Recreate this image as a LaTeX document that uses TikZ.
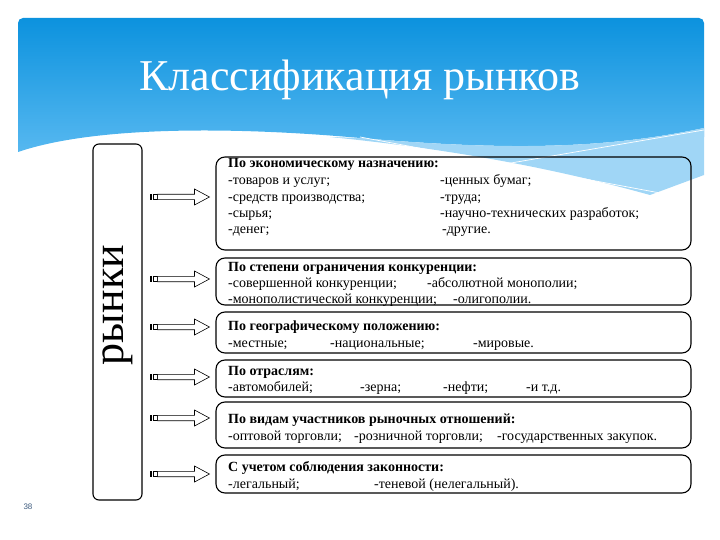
\documentclass[tikz,border=0pt]{standalone}
\usepackage{fontspec}
\setmainfont{Liberation Serif}
\newfontfamily\numfont{Liberation Sans}
\usetikzlibrary{calc}

\definecolor{SkyTop}{RGB}{12,146,222}
\definecolor{SkyLow}{RGB}{86,184,240}
\definecolor{SkyPale}{RGB}{160,214,246}
\definecolor{PageNum}{RGB}{60,90,125}

\newcommand{\StripedArrow}[2]%
% start, target box
{
    % bout de la flèche juste avant la boîte
    \path let \p1 = (#1), \p2 = (#2.west) in
        coordinate (AS) at (\x1,\y1)
        coordinate (AE) at (\x2-6pt,\y1);
    % rayures
    \fill ($(AS)+(0,-3)$) rectangle ($(AS)+(1.8,3)$);
    \draw[line width=0.6pt] ($(AS)+(3.6,-2.7)$) rectangle ($(AS)+(7.6,2.7)$);
    % corps et pointe
    \draw[line width=0.6pt, fill=white]
        ($(AS)+(7.6,-2.7)$) -- ($(AE)+(-15,-2.7)$) -- ($(AE)+(-15,-8)$)
        -- (AE) -- ($(AE)+(-15,8)$) -- ($(AE)+(-15,2.7)$)
        -- ($(AS)+(7.6,2.7)$) -- cycle;
}

\begin{document}
\begin{tikzpicture}
[   x=1pt, y=-1pt,
    catbox/.style={draw, line width=1.1pt, rounded corners=9pt,
        minimum width=475pt, inner sep=0},
    head/.style={anchor=base west, inner sep=0,
        font=\bfseries\fontsize{14}{16}\selectfont},
    item/.style={anchor=base west, inner sep=0,
        font=\fontsize{14}{16}\selectfont}
]
    \useasboundingbox (0,0) rectangle (720,540);

    % bandeau du titre
    \shade[top color=SkyTop, bottom color=SkyLow, rounded corners=5pt]
        (18,152) -- (18,18) -- (704,18) -- (704,140) [sharp corners] -- (704,128)
        .. controls (600,150) and (500,150) .. (360,138)
        .. controls (250,128) and (100,124) .. (18,152) -- cycle;
    \fill[SkyPale]
        (330,137) .. controls (460,150) and (560,170) .. (650,195)
        -- (704,175) -- (704,128)
        .. controls (600,150) and (500,150) .. (360,138) -- cycle;
    \draw[white, line width=0.7pt] (360,137) -- (660,193);
    \draw[white, line width=0.7pt] (470,170) -- (704,130);
    \node[white, font=\fontsize{44}{48}\selectfont] (title) at (360,80)
        {Классификация рынков};

    % bloc vertical
    \node[draw, line width=1.1pt, rounded corners=6pt, minimum width=49pt,
        minimum height=356pt, inner sep=0] (rynki) at (117.5,322) {};
    \node[rotate=90, font=\fontsize{44}{48}\selectfont, inner sep=0]
        (rynkiL) at (118,305) {рынки};

    % boîtes
    \node[catbox, minimum height=93pt] (b1) at (453.5,203.5) {};
    \node[catbox, minimum height=47pt] (b2) at (453.5,281.5) {};
    \node[catbox, minimum height=41pt] (b3) at (453.5,332.5) {};
    \node[catbox, minimum height=37pt] (b4) at (453.5,378.5) {};
    \node[catbox, minimum height=46pt] (b5) at (453.5,425) {};
    \node[catbox, minimum height=38pt] (b6) at (453.5,474) {};

    \node[head] (h1) at (228,168) {По экономическому назначению:};
    \node[item] (l11) at (228,185) {\makebox[212pt][l]{-товаров и услуг;}-ценных бумаг;};
    \node[item] (l12) at (228,201.5) {\makebox[212pt][l]{-средств производства;}-труда;};
    \node[item] (l13) at (228,217.5) {\makebox[212pt][l]{-сырья;}-научно-технических разработок;};
    \node[item] (l14) at (228,233.5) {\makebox[214pt][l]{-денег;}-другие.};

    \node[head] (h2) at (228,271) {По степени ограничения конкуренции:};
    \node[item] (l21) at (228,287.5) {\makebox[199pt][l]{-совершенной конкуренции;}-абсолютной монополии;};
    \node[item] (l22) at (228,303.5) {\makebox[225pt][l]{-монополистической конкуренции;}-олигополии.};

    \node[head] (h3) at (228,330) {По географическому положению:};
    \node[item] (l31) at (228,347.5) {\makebox[102pt][l]{-местные;}\makebox[143pt][l]{-национальные;}-мировые.};

    \node[head] (h4) at (228,375) {По отраслям:};
    \node[item] (l41) at (228,391.5) {\makebox[132pt][l]{-автомобилей;}\makebox[83pt][l]{-зерна;}\makebox[83pt][l]{-нефти;}-и т.д.};

    \node[head] (h5) at (228,423) {По видам участников рыночных отношений:};
    \node[item] (l51) at (228,440.5) {\makebox[126pt][l]{-оптовой торговли;}\makebox[143pt][l]{-розничной торговли;}-государственных закупок.};

    \node[head] (h6) at (228,471) {С учетом соблюдения законности:};
    \node[item] (l61) at (228,488.5) {\makebox[146pt][l]{-легальный;}-теневой (нелегальный).};

    % flèches
    \coordinate (s1) at (150,197);
    \coordinate (s2) at (150,279);
    \coordinate (s3) at (150,327);
    \coordinate (s4) at (150,377);
    \coordinate (s5) at (150,418);
    \coordinate (s6) at (150,474);
    \foreach \i in {1,...,6}
    {   \StripedArrow{s\i}{b\i} }

    \node[PageNum, font=\numfont\fontsize{8}{9}\selectfont] (page) at (28,507) {38};
\end{tikzpicture}
\end{document}
